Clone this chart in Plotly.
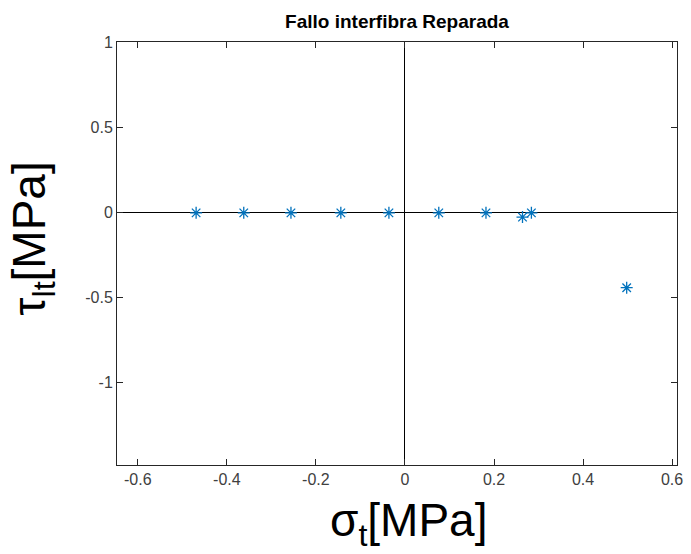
import plotly.graph_objects as go

# Data
sigma_t = [-0.469, -0.362, -0.256, -0.144, -0.036, 0.076, 0.182, 0.264, 0.284, 0.498]
tau_lt = [0.0, 0.0, 0.0, 0.0, 0.0, 0.0, 0.0, -0.025, 0.0, -0.44]

x_ticks = [-0.6, -0.4, -0.2, 0, 0.2, 0.4, 0.6]
x_ticklabels = ["-0.6", "-0.4", "-0.2", "0", "0.2", "0.4", "0.6"]
y_ticks = [-1, -0.5, 0, 0.5, 1]
y_ticklabels = ["-1", "-0.5", "0", "0.5", "1"]

title_text = "Fallo interfibra Reparada"
xlabel = "σ<sub>t</sub>[MPa]"
ylabel = "τ<sub>lt</sub>[MPa]"

axis_color = "#262626"
tick_text_color = "#404040"
marker_color = "#0072BD"
font_family = "Liberation Sans, Arial, sans-serif"

fig = go.Figure()
fig.add_trace(go.Scatter(
    x=sigma_t, y=tau_lt, mode="markers",
    marker=dict(symbol="asterisk-open", size=10, color=marker_color,
                line=dict(color=marker_color, width=1.3)),
    showlegend=False, hoverinfo="x+y",
))

common = dict(showline=True, linecolor=axis_color, linewidth=1, mirror="ticks",
              ticks="inside", ticklen=6, tickcolor=axis_color, showgrid=False,
              zeroline=True, zerolinecolor="black", zerolinewidth=1.3,
              tickfont=dict(family=font_family, size=16, color=tick_text_color))

fig.update_xaxes(range=[-0.6467, 0.611], tickvals=x_ticks, ticktext=x_ticklabels, **common)
fig.update_yaxes(range=[-1.483, 1.005], tickvals=y_ticks, ticktext=y_ticklabels, **common)

fig.update_layout(
    width=691, height=554,
    margin=dict(l=117, r=8, t=42, b=89),
    paper_bgcolor="white", plot_bgcolor="white",
    title=dict(text="<b>" + title_text + "</b>", x=0.5, xanchor="center", xref="paper",
               y=1, yref="paper", yanchor="bottom", pad=dict(b=14),
               font=dict(family=font_family, size=19, color="black")),
    annotations=[
        dict(text=xlabel, xref="paper", yref="paper", x=0.5, y=0, xanchor="center",
             yanchor="top", yshift=-27, xshift=12, showarrow=False,
             font=dict(family=font_family, size=46, color="black")),
        dict(text=ylabel, xref="paper", yref="paper", x=0, y=0.535, xanchor="center",
             yanchor="middle", xshift=-84, textangle=-90, showarrow=False,
             font=dict(family=font_family, size=46, color="black")),
    ],
)

fig.write_html("out.html", config={"displayModeBar": False},
               post_script="document.body.style.margin='0';")
